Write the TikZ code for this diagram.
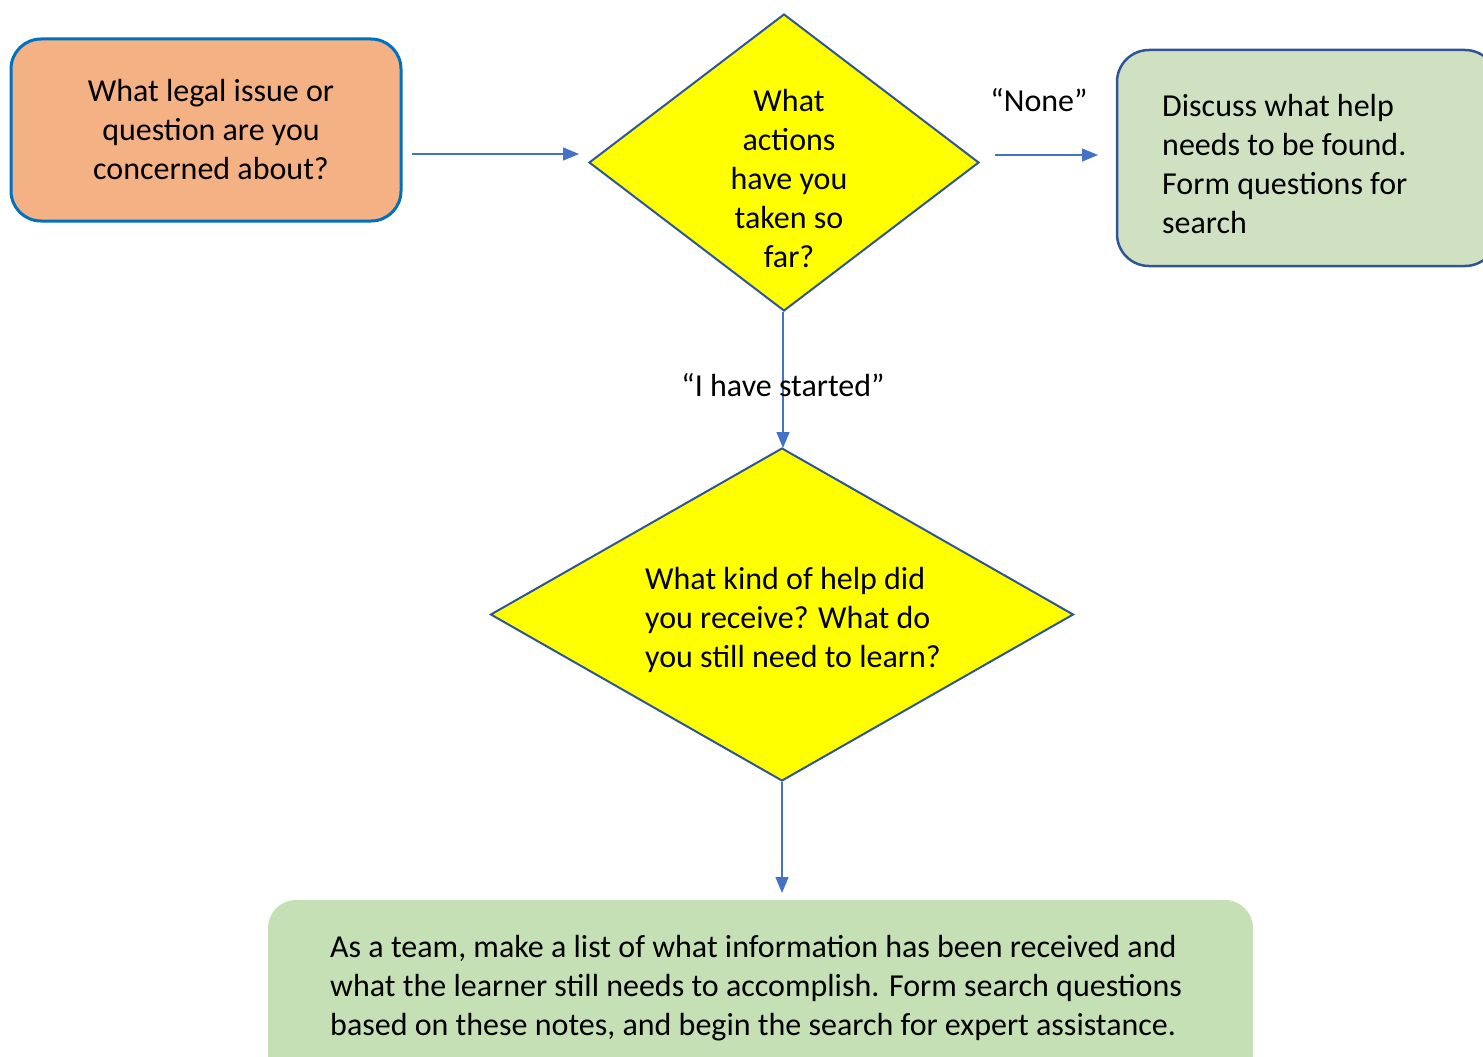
\documentclass[tikz,border=0pt]{standalone}
\usepackage{fontspec}
\setmainfont{Carlito}
\usetikzlibrary{shapes.geometric,arrows.meta}
\definecolor{orangefill}{HTML}{F4B183}
\definecolor{boxblue}{HTML}{0070C0}
\definecolor{darkblue}{HTML}{2F5597}
\definecolor{arrowblue}{HTML}{4472C4}
\definecolor{greenA}{HTML}{D0E1C2}
\definecolor{greenB}{HTML}{C5E0B4}
\definecolor{yel}{HTML}{FFFF00}
\tikzset{
  txt/.style={font=\fontsize{32}{39}\selectfont, inner sep=0pt},
  flow/.style={draw=arrowblue, line width=1.4pt, -{Triangle[length=16pt,width=13pt]}},
  decision/.style={diamond, draw=darkblue, fill=yel, line width=2pt, inner sep=0pt},
}
\begin{document}
\begin{tikzpicture}[x=1pt,y=-1pt]
\useasboundingbox (0,0) rectangle (1483,1057);
% boxes
\node[draw=boxblue, fill=orangefill, line width=3pt, rounded corners=30pt,
      minimum width=390pt, minimum height=182pt, inner sep=0pt] (start) at (206,130) {};
\node[txt, align=center] (startT) at (211,130) {What legal issue or\\question are you\\concerned about?};

\node[decision, minimum width=390pt, minimum height=297pt] (d1) at (784,162.5) {};
\node[txt, align=center] (d1T) at (789,179) {What\\actions\\have you\\taken so\\far?};

\node[draw=darkblue, fill=greenA, line width=2.5pt, rounded corners=32pt,
      minimum width=380pt, minimum height=216pt, inner sep=0pt] (right) at (1307,158) {};
\node[txt, align=left, anchor=west] (rightT) at (1162,164) {Discuss what help\\needs to be found.\\Form questions for\\search};

\node[decision, minimum width=583pt, minimum height=333pt] (d2) at (782,614.5) {};
\node[txt, align=left, anchor=west] (d2T) at (645,620) {What kind of help did\\you receive? What do\\you still need to learn?};

\node[fill=greenB, rounded corners=28pt,
      minimum width=985pt, minimum height=200pt, inner sep=0pt] (final) at (760.5,1000) {};
\node[txt, align=left, anchor=west] (finalT) at (330,988) {As a team, make a list of what information has been received and\\what the learner still needs to accomplish. Form search questions\\based on these notes, and begin the search for expert assistance.};

% connector end points
\coordinate (a1s) at (412,154);
\coordinate (a1e) at (579,154);
\coordinate (a2s) at (995,155);
\coordinate (a2e) at (1098,155);
\coordinate (a3e) at (783,448);
\coordinate (a4e) at (782,893);

\draw[flow] (a1s) -- (a1e);
\draw[flow] (a2s) -- (a2e);
\draw[flow] (d1.south -| a3e) -- (a3e);
\draw[flow] (d2.south) -- (a4e);

% labels
\node[txt] (none) at (1039,100) {“None”};
\node[txt] (started) at (783,385) {“I have started”};
\end{tikzpicture}
\end{document}
